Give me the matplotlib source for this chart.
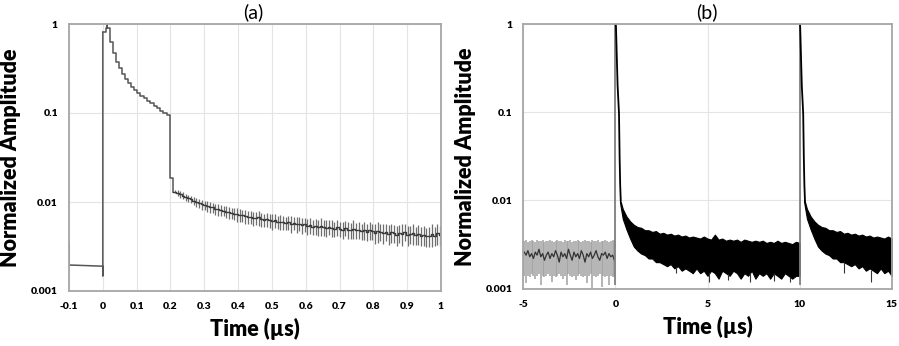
import numpy as np
import matplotlib
matplotlib.use("Agg")
import matplotlib.pyplot as plt
from matplotlib.ticker import NullLocator

plt.rcParams['font.family'] = ['Lato', 'DejaVu Sans']

# ---------------- Panel (a) data ----------------
a_xticks = [-0.1, 0.0, 0.1, 0.2, 0.3, 0.4, 0.5, 0.6, 0.7, 0.8, 0.9, 1.0]
a_xlabels = ['-0.1', '0', '0.1', '0.2', '0.3', '0.4', '0.5', '0.6', '0.7', '0.8', '0.9', '1']
y_ticks = [0.001, 0.01, 0.1, 1]
y_labels = ['0.001', '0.01', '0.1', '1']

# trace before the pulse
a_pre_t = [-0.1, -0.1, 0.0, 0.0]
a_pre_v = [0.0035, 0.00196, 0.0019, 0.00148]

# stepped decay during the pulse (start time of each level, level value)
a_step_t = [0.000, 0.009, 0.012, 0.0135, 0.0225, 0.030, 0.039, 0.048, 0.057, 0.067,
            0.0755, 0.084, 0.093, 0.101, 0.111, 0.1205, 0.130, 0.140, 0.150, 0.160,
            0.170, 0.179, 0.189, 0.199, 0.209]
a_step_v = [0.806, 0.895, 1.000, 0.895, 0.633, 0.476, 0.377, 0.318, 0.274, 0.239,
            0.215, 0.194, 0.181, 0.169, 0.156, 0.148, 0.137, 0.128, 0.120, 0.113,
            0.106, 0.101, 0.095, 0.0185, 0.0131]

# afterglow with error bars
a_err_t0 = 0.209
a_err_dt = 0.008
a_mean = [0.0131, 0.0126, 0.0122, 0.0118, 0.0113, 0.0110, 0.0107, 0.0103, 0.0100, 0.0097,
          0.0094, 0.0092, 0.0090, 0.0088, 0.0087, 0.0084, 0.0083, 0.0081, 0.0080, 0.0078,
          0.0077, 0.0075, 0.0074, 0.0073, 0.0071, 0.0071, 0.0069, 0.0068, 0.0068, 0.0066,
          0.0066, 0.0067, 0.0064, 0.0063, 0.0064, 0.0062, 0.0061, 0.0062, 0.0060, 0.0060,
          0.0059, 0.0058, 0.0059, 0.0057, 0.0058, 0.0056, 0.0057, 0.0055, 0.0056, 0.0054,
          0.0055, 0.0053, 0.0054, 0.0052, 0.0054, 0.0052, 0.0051, 0.0053, 0.0051, 0.0050,
          0.0052, 0.0050, 0.0049, 0.0051, 0.0049, 0.0048, 0.0050, 0.0048, 0.0049, 0.0047,
          0.0048, 0.0046, 0.0048, 0.0047, 0.0045, 0.0047, 0.0046, 0.0045, 0.0046, 0.0044,
          0.0046, 0.0045, 0.0043, 0.0045, 0.0044, 0.0046, 0.0043, 0.0044, 0.0045, 0.0043,
          0.0044, 0.0042, 0.0043, 0.0041, 0.0042, 0.0044, 0.0042, 0.0045, 0.0043, 0.0041]
a_err = [0.0006, 0.0009, 0.0010, 0.0011, 0.0010, 0.0011, 0.0010, 0.0011, 0.0012, 0.0011,
         0.0012, 0.0011, 0.0012, 0.0013, 0.0011, 0.0012, 0.0013, 0.0012, 0.0011, 0.0012,
         0.0012, 0.0011, 0.0012, 0.0013, 0.0012, 0.0011, 0.0012, 0.0011, 0.0012, 0.0012,
         0.0011, 0.0013, 0.0012, 0.0011, 0.0012, 0.0011, 0.0012, 0.0011, 0.0010, 0.0011,
         0.0011, 0.0010, 0.0011, 0.0012, 0.0010, 0.0011, 0.0010, 0.0011, 0.0010, 0.0011,
         0.0011, 0.0010, 0.0011, 0.0010, 0.0012, 0.0010, 0.0011, 0.0010, 0.0011, 0.0010,
         0.0011, 0.0010, 0.0011, 0.0010, 0.0011, 0.0010, 0.0012, 0.0010, 0.0011, 0.0010,
         0.0011, 0.0010, 0.0011, 0.0010, 0.0011, 0.0012, 0.0010, 0.0011, 0.0010, 0.0011,
         0.0011, 0.0010, 0.0011, 0.0010, 0.0012, 0.0010, 0.0011, 0.0010, 0.0012, 0.0010,
         0.0011, 0.0010, 0.0011, 0.0010, 0.0011, 0.0013, 0.0010, 0.0012, 0.0011, 0.0010]

# ---------------- Panel (b) data ----------------
b_xticks = [-5, 0, 5, 10, 15]
b_xlabels = ['-5', '0', '5', '10', '15']

b_pre_t0 = -4.95
b_pre_dt = 0.1
b_pre_mean = [2.6, 2.4, 2.7, 2.3, 2.5, 2.2, 2.6, 2.4, 2.8, 2.3,
              2.5, 2.1, 2.4, 2.6, 2.2, 2.5, 2.3, 2.7, 2.4, 2.0,
              2.6, 2.3, 2.5, 2.2, 2.8, 2.4, 2.1, 2.6, 2.3, 2.5,
              2.2, 2.7, 2.4, 2.0, 2.5, 2.3, 2.6, 2.2, 2.4, 2.7,
              2.3, 2.1, 2.5, 2.4, 2.6, 2.2, 2.5, 2.3, 2.4, 2.1]   # x 1e-3
b_pre_hi = [3.5, 3.6, 3.4, 3.5, 3.6, 3.5, 3.4, 3.6, 3.5, 3.5,
            3.6, 3.4, 3.5, 3.5, 3.6, 3.5, 3.4, 3.5, 3.6, 3.5,
            3.5, 3.4, 3.6, 3.5, 3.5, 3.6, 3.4, 3.5, 3.5, 3.6,
            3.5, 3.4, 3.5, 3.6, 3.5, 3.5, 3.4, 3.6, 3.5, 3.5,
            3.6, 3.4, 3.5, 3.5, 3.6, 3.5, 3.4, 3.5, 3.6, 3.5]   # x 1e-3
b_pre_lo = [1.4, 1.15, 1.4, 1.35, 1.45, 1.4, 1.3, 1.4, 1.45, 1.1,
            1.4, 1.35, 1.4, 1.45, 1.4, 1.2, 1.4, 1.35, 1.4, 1.45,
            1.4, 1.3, 1.4, 1.1, 1.45, 1.4, 1.35, 1.4, 1.25, 1.4,
            1.45, 1.4, 1.35, 1.4, 1.15, 1.4, 1.45, 1.0, 1.4, 1.35,
            1.4, 1.45, 1.05, 1.4, 1.35, 1.4, 1.1, 1.4, 1.35, 1.4]  # x 1e-3

b_periods = [0.0, 10.0]
b_edge_lo = 0.0011
b_decay_t = [0.01, 0.03, 0.07, 0.12, 0.195, 0.23, 0.26, 0.29]
b_decay_v = [1.0, 0.95, 0.47, 0.2, 0.097, 0.03, 0.015, 0.0101]
# noisy band after each pulse: time, upper edge, lower edge
b_env_t = [0.25, 0.30, 0.40, 0.60, 0.80, 1.0, 1.2, 1.4, 1.6, 1.8, 2.0, 2.2,
           2.4, 2.6, 2.8, 3.0, 3.2, 3.4, 3.6, 3.8, 4.0, 4.2,
           4.4, 4.6, 4.8, 5.0, 5.2, 5.4, 5.6, 5.8, 6.0, 6.2,
           6.4, 6.6, 6.8, 7.0, 7.2, 7.4, 7.6, 7.8, 8.0, 8.2,
           8.4, 8.6, 8.8, 9.0, 9.2, 9.4, 9.6, 9.8, 10.0]
b_env_hi = [0.0101, 0.0095, 0.0080, 0.0066, 0.0058, 0.0053, 0.0050, 0.0049, 0.0046, 0.0046, 0.0044, 0.0045,
            0.0042, 0.0043, 0.0041, 0.0042, 0.0040, 0.0041, 0.0039, 0.0040, 0.0038, 0.0039,
            0.0038, 0.0037, 0.0039, 0.0037, 0.0036, 0.0041, 0.0036, 0.0037, 0.0035, 0.0036,
            0.0035, 0.0036, 0.0034, 0.0036, 0.0035, 0.0034, 0.0035, 0.0034, 0.0035, 0.0033,
            0.0034, 0.0033, 0.0035, 0.0033, 0.0034, 0.0033, 0.0032, 0.0034, 0.0033]
b_env_lo = [0.0095, 0.0082, 0.0062, 0.0047, 0.0037, 0.0030, 0.0027, 0.0025, 0.0024, 0.0022, 0.0022, 0.0020,
            0.0020, 0.0019, 0.0018, 0.0019, 0.0017, 0.0018, 0.0016, 0.0017, 0.0016, 0.0015,
            0.0017, 0.0015, 0.0016, 0.0014, 0.0016, 0.0015, 0.0013, 0.0016, 0.0015, 0.0014,
            0.0016, 0.0015, 0.0013, 0.0015, 0.0014, 0.0016, 0.0013, 0.0015, 0.0014, 0.0015,
            0.0013, 0.0015, 0.0014, 0.0013, 0.0015, 0.0014, 0.0013, 0.0014, 0.0014]
b_spike_t = [3.3, 5.1, 6.1, 7.3, 8.6, 9.5, 12.4, 13.9]
b_spike_v = [0.0015, 0.00118, 0.00125, 0.0012, 0.00122, 0.0012, 0.0015, 0.0012]

# ---------------- Figure ----------------
W, H = 899, 346
fig = plt.figure(figsize=(W / 100, H / 100), dpi=100)
axA = fig.add_axes([69 / W, 1 - 291 / H, 372 / W, 267 / H])
axB = fig.add_axes([523.3 / W, 1 - 288.7 / H, 368.4 / W, 264.7 / H])

for ax in (axA, axB):
    ax.set_yscale('log')
    ax.set_ylim(0.001, 1)
    ax.set_yticks(y_ticks)
    ax.set_yticklabels(y_labels, fontweight='heavy', fontsize=7.5)
    ax.yaxis.set_minor_locator(NullLocator())
    ax.grid(True, color='#e4e4e4', lw=0.8)
    ax.set_axisbelow(True)
    for s in ax.spines.values():
        s.set_color('#a6a6a6')
        s.set_linewidth(1.3)
    ax.tick_params(length=0, pad=8)

# ---- panel (a)
axA.set_xlim(-0.1, 1.0)
axA.set_xticks(a_xticks)
axA.set_xticklabels(a_xlabels, fontweight='heavy', fontsize=7.5)
axA.plot(a_pre_t + [a_step_t[0]], a_pre_v + [a_step_v[0]], color='#555555', lw=1.1)
axA.plot(a_step_t, a_step_v, drawstyle='steps-post', color='#555555', lw=1.1)
a_t = a_err_t0 + a_err_dt * np.arange(len(a_mean))
a_m = np.array(a_mean)
a_e = np.array(a_err)
axA.vlines(a_t + a_err_dt / 2, a_m - a_e, a_m + a_e, color='#6e6e6e', lw=0.9)
axA.plot(np.append(a_t, a_t[-1] + a_err_dt), np.append(a_m, a_m[-1]),
         drawstyle='steps-post', color='#3a3a3a', lw=1.0)

# ---- panel (b)
axB.set_xlim(-5, 15)
axB.set_xticks(b_xticks)
axB.set_xticklabels(b_xlabels, fontweight='heavy', fontsize=7.5)
b_t = b_pre_t0 + b_pre_dt * np.arange(len(b_pre_mean))
axB.vlines(b_t, np.array(b_pre_lo) * 1e-3, np.array(b_pre_hi) * 1e-3, color='#a0a0a0', lw=1.1)
axB.plot(b_t, np.array(b_pre_mean) * 1e-3, color='#333333', lw=0.9)
for p in b_periods:
    axB.vlines(p, b_edge_lo, 1.0, color='#808080', lw=1.3)
    axB.plot(np.array(b_decay_t) + p, b_decay_v, color='black', lw=1.3)
    axB.fill_between(np.array(b_env_t) + p, b_env_lo, b_env_hi, color='black', lw=0.8,
                     edgecolor='black')
spk_t = np.array(b_spike_t)
spk_top = np.interp(spk_t % 10, b_env_t, b_env_lo)
axB.vlines(spk_t, b_spike_v, spk_top, color='#333333', lw=0.8)

# ---- texts
lab = dict(fontsize=15.5, fontweight='heavy')
fig.text(11 / W, 1 - 158 / H, 'Normalized Amplitude', rotation=90, ha='center', va='center', **lab)
fig.text(466 / W, 1 - 157 / H, 'Normalized Amplitude', rotation=90, ha='center', va='center', **lab)
fig.text(255 / W, 1 - 329 / H, 'Time (\u00b5s)', ha='center', va='center', **lab)
fig.text(708 / W, 1 - 327 / H, 'Time (\u00b5s)', ha='center', va='center', **lab)
fig.text(253 / W, 1 - 12 / H, '(a)', ha='center', va='center', fontsize=14)
fig.text(707 / W, 1 - 12 / H, '(b)', ha='center', va='center', fontsize=14)

fig.savefig('out.png', dpi=100)
